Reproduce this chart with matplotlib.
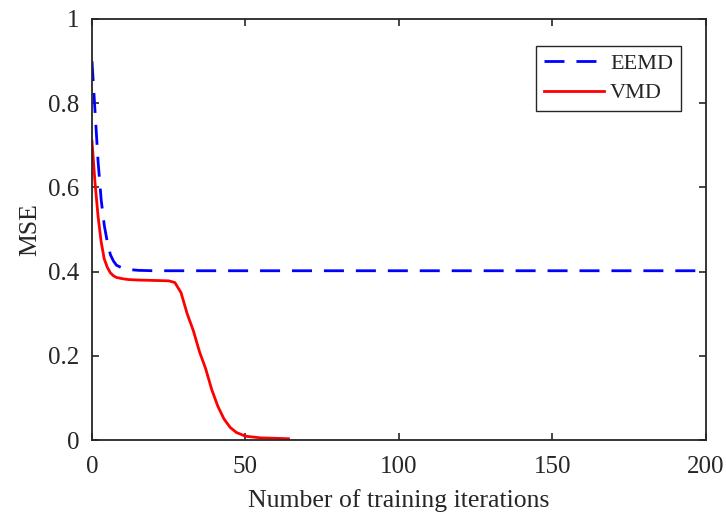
import numpy as np
import matplotlib.pyplot as plt

plt.rcParams['font.family'] = ['Liberation Serif', 'DejaVu Serif']
plt.rcParams['text.color'] = '#262626'
plt.rcParams['axes.labelcolor'] = '#262626'
plt.rcParams['xtick.color'] = '#262626'
plt.rcParams['ytick.color'] = '#262626'

# EEMD training curve
eemd_iter = [0, 1, 2, 3, 4, 5, 6, 7, 8, 10, 12, 15, 20, 30, 50, 100, 150, 200]
eemd_mse = [0.90, 0.78, 0.66, 0.57, 0.51, 0.47, 0.44, 0.425, 0.415, 0.408, 0.405, 0.403,
            0.402, 0.402, 0.402, 0.402, 0.402, 0.402]

# VMD training curve
vmd_iter = [0, 1, 2, 3, 4, 5, 6, 7, 8, 10, 12, 15, 20, 25, 27, 29, 31, 33, 35, 37, 39,
            41, 43, 45, 47, 50, 55, 60, 64]
vmd_mse = [0.71, 0.61, 0.53, 0.47, 0.43, 0.41, 0.397, 0.39, 0.386, 0.383, 0.381, 0.380,
           0.379, 0.378, 0.374, 0.35, 0.30, 0.26, 0.21, 0.17, 0.12, 0.08, 0.05, 0.03,
           0.018, 0.009, 0.005, 0.004, 0.003]

fig = plt.figure(figsize=(7.26, 5.13), dpi=100)
ax = fig.add_axes([0.1267, 0.1423, 0.8457, 0.8207])

ax.plot(eemd_iter, eemd_mse, color='#0000ff', linewidth=2, dashes=(7.2, 4.3), label='EEMD')
ax.plot(vmd_iter, vmd_mse, color='#ff0000', linewidth=2, label='VMD')

ax.set_xlim(0, 200)
ax.set_ylim(0, 1)
ax.set_xticks([0, 50, 100, 150, 200])
ax.set_yticks([0, 0.2, 0.4, 0.6, 0.8, 1])
ax.set_yticklabels(['0', '0.2', '0.4', '0.6', '0.8', '1'])
ax.tick_params(direction='in', top=True, right=True, labelsize=18, length=5, width=1.2)
ax.tick_params(axis='x', pad=11.5)
ax.tick_params(axis='y', pad=9)
for s in ax.spines.values():
    s.set_linewidth(1.3)
    s.set_color('#262626')

ax.set_xlabel('Number of training iterations', fontsize=18.5, labelpad=8)
ax.set_ylabel('MSE', fontsize=18.5, labelpad=5)

leg = ax.legend(loc='upper right', bbox_to_anchor=(0.959, 0.936), fontsize=16,
                fancybox=False, edgecolor='#262626', framealpha=1,
                handlelength=2.7, borderpad=0.34, labelspacing=0.4, handletextpad=0.3,
                borderaxespad=0)
leg.get_frame().set_linewidth(1)

plt.savefig('out.png', dpi=100)
